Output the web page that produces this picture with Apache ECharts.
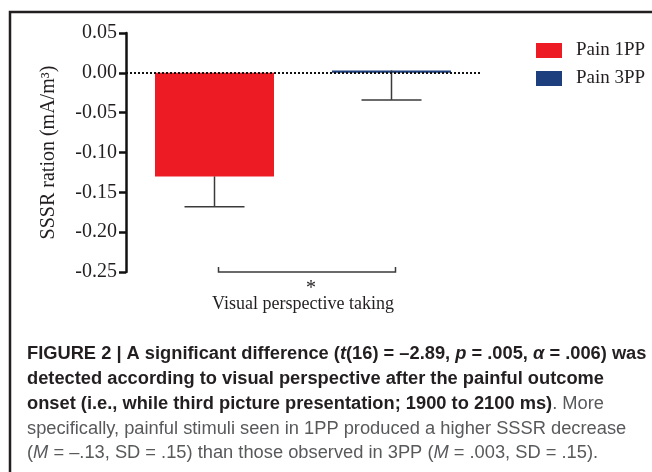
<!DOCTYPE html>
<html><head><meta charset="utf-8">
<script src="https://cdn.jsdelivr.net/npm/echarts@6/dist/echarts.min.js"></script>
<style>html,body{margin:0;padding:0;background:#fff}#c{width:652px;height:472px}</style>
</head><body><div id="c"></div>
<script>
const categories = ['Pain 1PP', 'Pain 3PP'];
const means = [-0.13, 0.003];
const errors = [0.038, 0.037];
const yTicks = { min: -0.25, max: 0.05, interval: 0.05 };
const seriesNames = ['Pain 1PP', 'Pain 3PP'];
const colors = ['#ed1c24', '#1d3f7e'];
const serif = 'Liberation Serif, Times New Roman, serif';
const sans = 'Liberation Sans Narrow, Arial Narrow, Liberation Sans, sans-serif';

const chart = echarts.init(document.getElementById('c'), null, { renderer: 'canvas' });

const barSeries = seriesNames.map((name, i) => ({
  name, type: 'bar', stack: 'all', barWidth: 119,
  itemStyle: { color: colors[i] },
  data: categories.map((c, j) => (j === i ? means[j] : '-')),
  z: 2
}));
barSeries[1].markLine = {
  silent: true, symbol: 'none', label: { show: false },
  lineStyle: { type: [2, 2], color: '#111', width: 2 },
  data: [{ yAxis: 0 }], z: 5
};

const errSeries = {
  type: 'custom', z: 3, silent: true,
  data: categories.map((c, j) => [j, means[j], errors[j]]),
  renderItem(params, api) {
    const x = api.value(0), v = api.value(1), e = api.value(2);
    const a = api.coord([x, v]), b = api.coord([x, v - e]);
    const st = { stroke: '#3a3a3a', lineWidth: 1.5 };
    return { type: 'group', children: [
      { type: 'line', shape: { x1: a[0], y1: a[1], x2: b[0], y2: b[1] }, style: st },
      { type: 'line', shape: { x1: b[0] - 30, y1: b[1], x2: b[0] + 30, y2: b[1] }, style: st }
    ]};
  }
};

const bracketSeries = {
  type: 'custom', z: 3, silent: true, clip: false,
  data: [[0, 1, yTicks.min]],
  renderItem(params, api) {
    const p0 = api.coord([api.value(0), api.value(2)]);
    const p1 = api.coord([api.value(1), api.value(2)]);
    const x0 = p0[0] + 4, x1 = p1[0] + 4, y = p0[1];
    return { type: 'group', children: [
      { type: 'polyline', shape: { points: [[x0, y - 5], [x0, y], [x1, y], [x1, y - 5]] },
        style: { stroke: '#3a3a3a', lineWidth: 1.5, fill: null } },
      { type: 'text', x: (x0 + x1) / 2 + 4, y: y + 17,
        style: { text: '*', font: '20px ' + serif, fill: '#231f20', align: 'center', verticalAlign: 'middle' } }
    ]};
  }
};

function line(y, parts) {
  return { type: 'text', left: 27, top: y, silent: true,
    style: { rich: {
      b: { font: 'bold 18.3px ' + sans, fill: '#231f20' },
      bi: { font: 'italic bold 18.3px ' + sans, fill: '#231f20' },
      n: { font: '18.3px ' + sans, fill: '#58595b' },
      ni: { font: 'italic 18.3px ' + sans, fill: '#58595b' }
    }, text: parts } };
}

chart.setOption({
  animation: false,
  grid: { left: 126, right: 172, top: 33, bottom: 200 },
  legend: {
    orient: 'vertical', left: 531, top: 36, itemWidth: 26, itemHeight: 15, itemGap: 9,
    icon: 'rect', selectedMode: false, data: seriesNames,
    textStyle: { fontFamily: serif, fontSize: 19, color: '#231f20', padding: [0, 0, 0, 9] }
  },
  xAxis: {
    type: 'category', data: categories,
    axisLine: { show: false }, axisTick: { show: false }, axisLabel: { show: false },
    name: 'Visual perspective taking', nameLocation: 'middle', nameGap: 23,
    nameTextStyle: { fontFamily: serif, fontSize: 18, color: '#231f20' }
  },
  yAxis: {
    type: 'value', min: yTicks.min, max: yTicks.max, interval: yTicks.interval,
    splitLine: { show: false },
    axisLine: { show: true, lineStyle: { color: '#111', width: 2.5 } },
    axisTick: { show: true, inside: false, length: 7, lineStyle: { color: '#111', width: 2.5 } },
    axisLabel: { margin: 9, fontFamily: serif, fontSize: 20, color: '#231f20',
      formatter: v => v.toFixed(2) },
    name: 'SSSR ration (mA/m³)', nameLocation: 'middle', nameRotate: 90, nameGap: 67,
    nameTextStyle: { fontFamily: serif, fontSize: 20, color: '#231f20' }
  },
  graphic: [
    { type: 'polyline', silent: true, shape: { points: [[10, 480], [10, 12], [660, 12]] },
      style: { stroke: '#231f20', lineWidth: 2.5, fill: null } },
    line(345, '{b|FIGURE 2 | A significant difference (}{bi|t}{b|(16) = –2.89, }{bi|p}{b| = .005, }{bi|α}{b| = .006) was}'),
    line(370, '{b|detected according to visual perspective after the painful outcome}'),
    line(395, '{b|onset (i.e., while third picture presentation; 1900 to 2100 ms)}{n|. More}'),
    line(420, '{n|specifically, painful stimuli seen in 1PP produced a higher SSSR decrease}'),
    line(444, '{n|(}{ni|M}{n| = –.13, SD = .15) than those observed in 3PP (}{ni|M}{n| = .003, SD = .15).}')
  ],
  series: [...barSeries, errSeries, bracketSeries]
});
</script></body></html>
